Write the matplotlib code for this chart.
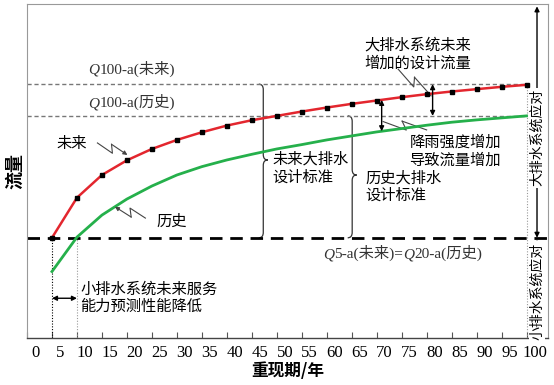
import numpy as np
import matplotlib.pyplot as plt
from matplotlib.path import Path
from matplotlib.patches import PathPatch
from matplotlib.transforms import ScaledTranslation

plt.rcParams['font.family'] = ['Liberation Serif', 'Noto Sans CJK SC']

# return period (years) and design flow (arbitrary units)
years = list(range(5, 105, 5))
future = [30.0, 42.0, 48.8, 53.2, 56.6, 59.3, 61.6, 63.6, 65.2, 66.5,
          67.8, 69.0, 70.1, 71.1, 72.1, 73.0, 73.8, 74.5, 75.2, 75.8]
history = [19.9, 30.2, 36.8, 41.6, 45.5, 48.8, 51.3, 53.3, 55.0, 56.6,
           57.9, 59.3, 60.5, 61.7, 62.7, 63.7, 64.6, 65.3, 65.9, 66.5]

q100_future = 76.0
q100_history = 66.5
q5_future = 30.0
xticks = list(range(0, 105, 5))

cjk = ['Noto Sans CJK SC', 'DejaVu Sans']
serif = ['Liberation Serif', 'Noto Sans CJK SC']

fig = plt.figure(figsize=(5.54, 3.85), dpi=100)
ax = fig.add_axes([27 / 554, 47 / 385, 521 / 554, 334 / 385])
ax.set_xlim(0, 104.3)
ax.set_ylim(0, 100)


def brace(x, y0, y1, ym, w=0.9, d=1.6):
    verts = [(x - w, y1), (x, y1), (x, y1 - d), (x, ym + d),
             (x, ym), (x + w, ym), (x, ym), (x, ym - d),
             (x, y0 + d), (x, y0), (x - w, y0)]
    codes = [Path.MOVETO, Path.CURVE3, Path.CURVE3, Path.LINETO,
             Path.CURVE3, Path.CURVE3, Path.CURVE3, Path.CURVE3,
             Path.LINETO, Path.CURVE3, Path.CURVE3]
    ax.add_patch(PathPatch(Path(verts, codes), fc='none', ec='#333333', lw=0.9))


def zigzag(p0, p1, s=4, arrow=False):
    t = ax.transData
    a = np.array(t.transform(p0))
    b = np.array(t.transform(p1))
    dv = b - a
    n = np.array([-dv[1], dv[0]]) / np.hypot(*dv)
    m1 = a + 0.55 * dv - n * s
    m2 = a + 0.42 * dv + n * s
    pts = t.inverted().transform(np.array([a, m1, m2, b]))
    ax.plot(pts[:3, 0], pts[:3, 1], color='#444444', lw=0.8)
    if arrow:
        ax.annotate('', xy=pts[3], xytext=pts[2],
                    arrowprops=dict(arrowstyle='-|>', color='#444444', lw=0.8,
                                    mutation_scale=6, shrinkA=0, shrinkB=0))
    else:
        ax.plot(pts[2:, 0], pts[2:, 1], color='#444444', lw=0.8)


def darrow(x0, y0, x1, y1):
    ax.annotate('', xy=(x1, y1), xytext=(x0, y0),
                arrowprops=dict(arrowstyle='<|-|>', color='black', lw=1,
                                mutation_scale=7, shrinkA=0, shrinkB=0))


def qtext(x, y, pieces):
    # pieces alternate: italic "Q", then upright text
    prev = None
    for s in pieces:
        style = 'italic' if s == 'Q' else 'normal'
        fam = 'Liberation Serif' if s == 'Q' else serif
        if prev is None:
            prev = ax.text(x, y, s, ha='left', va='center', fontsize=11,
                           style=style, family=fam, color='#333333')
        else:
            prev = ax.annotate(s, xy=(1, 0), xycoords=prev, ha='left', va='bottom',
                               fontsize=11, style=style, family=fam, color='#333333')


# reference lines
ax.hlines([q100_future, q100_history], 0, 100, colors='#777777',
          linestyles=(0, (3, 2)), lw=1)
ax.axhline(q5_future, color='black', lw=2, ls=(0, (4.5, 2.8)), zorder=2)
ax.vlines(5, 0, q5_future, colors='black', linestyles=(0, (1, 1.5)), lw=0.8)
ax.vlines(10, 0, q5_future, colors='#999999', linestyles=(0, (1, 1.5)), lw=0.8)
ax.vlines(100, 0, q100_future, colors='#999999', linestyles=(0, (1, 1.5)), lw=0.8)

# curves
ax.plot(years, future, color='#e3262e', lw=1.8, zorder=3)
ax.plot(years, future, ls='none', marker='s', ms=2.3, color='black', zorder=4)
ax.plot(years, history, color='#25b04b', lw=2, zorder=3)

# labels of the reference lines
qtext(12.3, 80.2, ['Q', '100-a(未来)'])
qtext(12.3, 70.1, ['Q', '100-a(历史)'])
qtext(59.3, 24.9, ['Q', '5-a(未来)=', 'Q', '20-a(历史)'])

# curve names
ax.text(8.9, 58.1, '未来', ha='center', va='center', fontsize=11, family=cjk)
zigzag((14.1, 58.4), (20.1, 54.8), arrow=True)
ax.text(28.9, 34.8, '历史', ha='center', va='center', fontsize=11, family=cjk)
zigzag((23.7, 35.9), (17.6, 39.3), arrow=True)

# design standards
brace(47.3, q5_future, q100_future, 53.3)
ax.text(49.1, 50.9, '未来大排水\n设计标准', ha='left', va='center',
        fontsize=11, family=cjk, linespacing=1.05)
brace(65.1, q5_future, q100_history, 48.8)
ax.text(67.7, 45.4, '历史大排水\n设计标准', ha='left', va='center',
        fontsize=11, family=cjk, linespacing=1.05)

# increments
darrow(81.2, q100_history, 81.2, q100_future)
ax.text(78.3, 85.0, '大排水系统未来\n增加的设计流量', ha='center', va='center',
        fontsize=11, family=cjk, linespacing=1.05)
zigzag((74.3, 80.5), (80.9, 72.5))

x2 = 71.0
darrow(x2, np.interp(x2, years, history), x2, np.interp(x2, years, future))
ax.text(85.7, 56.0, '降雨强度增加\n导致流量增加', ha='center', va='center',
        fontsize=11, family=cjk, linespacing=1.05)
zigzag((71.3, 64.8), (80.0, 62.3))

# minor system
darrow(5, 11.9, 10, 11.9)
ax.text(10.7, 12.1, '小排水系统未来服务\n能力预测性能降低', ha='left', va='center',
        fontsize=11, family=cjk, linespacing=1.05)

# right-hand arrows
xr = 102.1
darrow(xr, q5_future, xr, 99.3)
darrow(xr, 0.6, xr, q5_future - 0.6)
ax.text(xr, 60, '大排水系统应对', rotation=90, ha='center', va='center',
        fontsize=10, family=cjk, bbox=dict(fc='white', ec='none', pad=1))
ax.text(xr, 14, '小排水系统应对', rotation=90, ha='center', va='center',
        fontsize=10, family=cjk, bbox=dict(fc='white', ec='none', pad=1))

# axes styling
ax.set_xticks(xticks)
ax.set_xticklabels([str(v) for v in xticks], family=serif, fontsize=12)
ax.tick_params(axis='x', direction='in', length=4, width=0.8, color='#555555', pad=5)
for lab in ax.get_xticklabels():
    lab.set_transform(lab.get_transform() + ScaledTranslation(0.08, 0, fig.dpi_scale_trans))
ax.set_yticks([])
for side in ['left', 'top', 'right']:
    ax.spines[side].set_color('#999999')
    ax.spines[side].set_linewidth(0.8)
ax.spines['bottom'].set_color('#444444')
ax.spines['bottom'].set_linewidth(1)

ax.set_xlabel('重现期/年', family=cjk, fontsize=12, fontweight='bold', labelpad=1)
ax.set_ylabel('流量', family=cjk, fontsize=13, fontweight='bold', labelpad=2)

fig.savefig('out.png', dpi=100)
